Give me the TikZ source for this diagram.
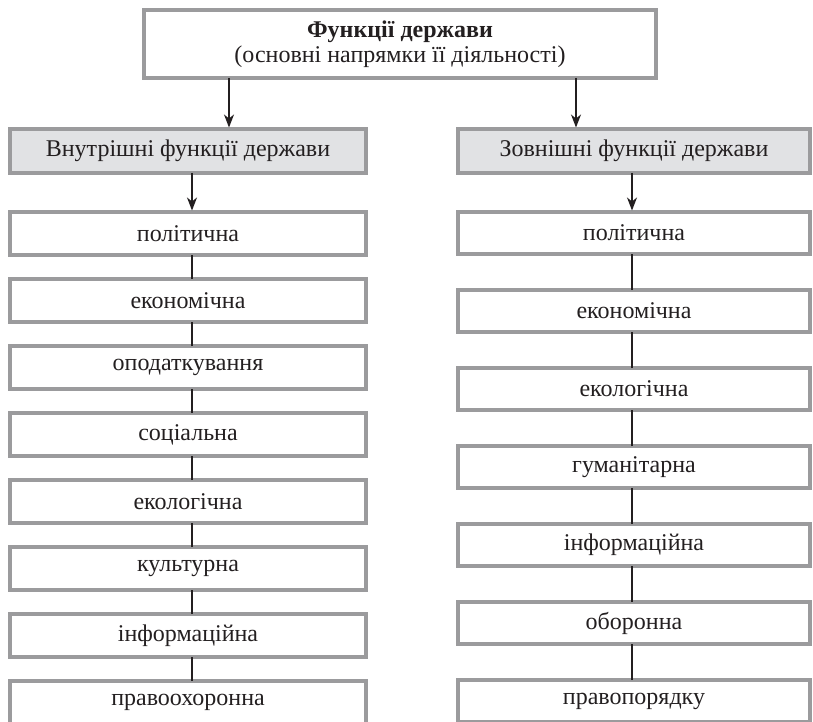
\documentclass[tikz,border=0pt]{standalone}
\usepackage{fontspec}
\setmainfont{Liberation Serif}
\usetikzlibrary{arrows.meta}
\definecolor{bordergray}{RGB}{155,155,157}
\definecolor{headfill}{RGB}{225,226,228}
\definecolor{ink}{RGB}{35,31,32}
\begin{document}
\begin{tikzpicture}[x=1pt,y=-1pt,
  box/.style={draw=bordergray, line width=3.5pt, fill=white, anchor=north west, inner sep=0pt, outer sep=0pt, text=ink, align=center, font=\fontsize{24}{25}\selectfont},
  head/.style={box, fill=headfill},
  lbox/.style={box, minimum width=356pt, minimum height=43pt},
  rbox/.style={box, minimum width=352pt, minimum height=42pt},
  arr/.style={draw=ink, line width=1.3pt, shorten >=1.5pt, -{Stealth[length=13pt,width=10pt,inset=4pt]}},
  link/.style={draw=ink, line width=1.3pt}]
\useasboundingbox (0,0) rectangle (813,722);
\clip (0,0) rectangle (813,722);

\node[box, minimum width=512pt, minimum height=68pt] (T) at (144,10)
  {{\bfseries Функції держави}\\(основні напрямки її діяльності)};

\node[head, minimum width=356pt, minimum height=44pt] (L0) at (10,129) {Внутрішні функції держави};
\node[head, minimum width=352pt, minimum height=44pt] (R0) at (458,129) {Зовнішні функції держави};

\node[lbox] (L1) at (10,212) {політична};
\node[lbox] (L2) at (10,279) {економічна};
\node[lbox] (L3) at (10,346) {оподаткування};
\node[lbox] (L4) at (10,413) {соціальна};
\node[lbox] (L5) at (10,480) {екологічна};
\node[lbox] (L6) at (10,547) {культурна};
\node[lbox] (L7) at (10,614) {інформаційна};
\node[lbox] (L8) at (10,681) {правоохоронна};

\node[rbox] (R1) at (458,212) {політична};
\node[rbox] (R2) at (458,290) {економічна};
\node[rbox] (R3) at (458,368) {екологічна};
\node[rbox] (R4) at (458,446) {гуманітарна};
\node[rbox] (R5) at (458,524) {інформаційна};
\node[rbox] (R6) at (458,602) {оборонна};
\node[rbox] (R7) at (458,680) {правопорядку};

\draw[arr] ([xshift=85pt]T.south west) -- ([xshift=85pt]T.south west |- L0.north);
\draw[arr] ([xshift=-80pt]T.south east) -- ([xshift=-80pt]T.south east |- R0.north);
\draw[arr] ([xshift=4pt]L0.south) -- ([xshift=4pt]L1.north);
\draw[arr] ([xshift=-2pt]R0.south) -- ([xshift=-2pt]R1.north);

\foreach \a/\b in {L1/L2,L2/L3,L3/L4,L4/L5,L5/L6,L6/L7,L7/L8}
  \draw[link] ([xshift=4pt]\a.south) -- ([xshift=4pt]\b.north);
\foreach \a/\b in {R1/R2,R2/R3,R3/R4,R4/R5,R5/R6,R6/R7}
  \draw[link] ([xshift=-2pt]\a.south) -- ([xshift=-2pt]\b.north);
\end{tikzpicture}
\end{document}
